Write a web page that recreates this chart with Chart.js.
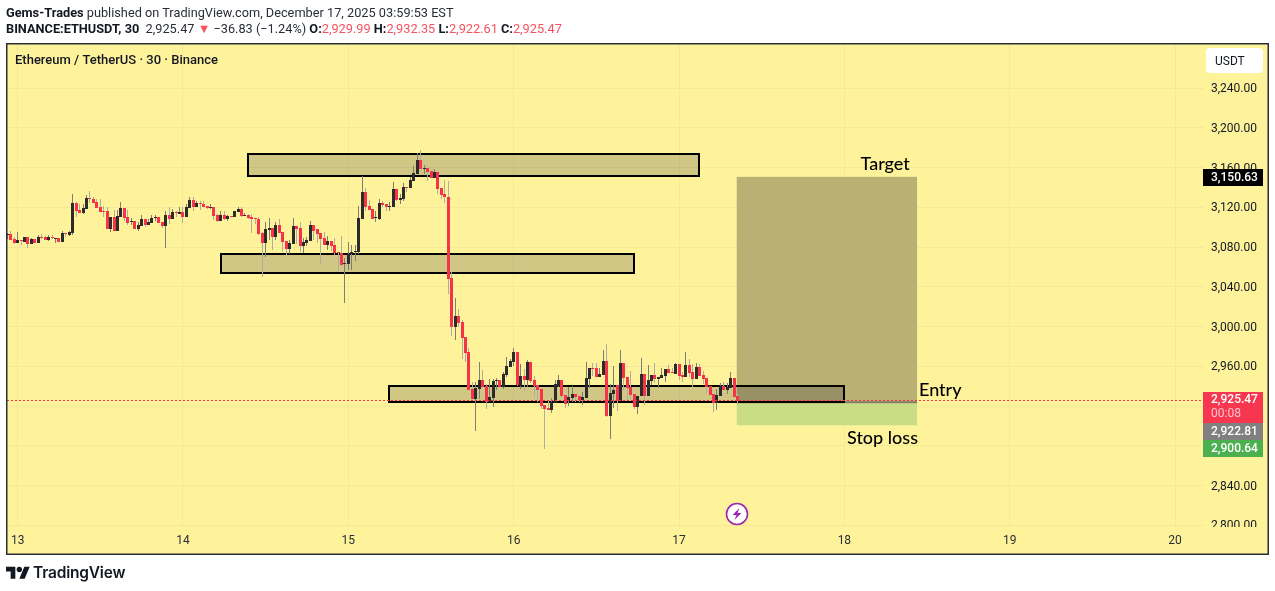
<!DOCTYPE html>
<html><head><meta charset="utf-8">
<style>
html,body{margin:0;padding:0;background:#fff;width:1275px;height:591px;overflow:hidden}
canvas{position:absolute;left:0;top:0}
.h{position:absolute;left:6px;font:12.75px Roboto,sans-serif;color:#2a2e39;white-space:nowrap;line-height:16px}
.h b{font-weight:700;color:#131722}.h i{font-style:normal;color:#f7525f}
#logo{position:absolute;left:6px;top:564px}
#lt{position:absolute;left:33px;top:563px;font:600 15.5px Inter,sans-serif;color:#131722;line-height:20px;letter-spacing:-.2px}
</style></head><body>
<canvas id="c" width="1275" height="591"></canvas>
<div class="h" style="top:5px"><b>Gems-Trades</b> published on TradingView.com, December 17, 2025 03:59:53 EST</div>
<div class="h" style="top:21px"><b>BINANCE:ETHUSDT, 30</b>&nbsp; 2,925.47 <i>▼</i> −36.83 (−1.24%) <b>O:</b><i>2,929.99</i> <b>H:</b><i>2,932.35</i> <b>L:</b><i>2,922.61</i> <b>C:</b><i>2,925.47</i></div>
<svg id="logo" width="24" height="15" viewBox="0 0 36 22"><path fill="#131722" d="M14 22H7V11H0V4h14v18zM28 22h-8l7.5-18h8L28 22z"/><circle fill="#131722" cx="20" cy="8" r="4"/></svg>
<div id="lt">TradingView</div>
<script src="https://cdn.jsdelivr.net/npm/chart.js@4/dist/chart.umd.js"></script>
<script>
const opens=[3092,3093,3088,3084,3087,3085,3090,3083,3088,3084,
3090,3090,3087,3090,3088,3089,3085,3094,3092,3094,
3124,3117,3114,3118,3129,3128,3125,3120,3116,3116,
3098,3110,3096,3110,3119,3110,3105,3106,3098,3101,
3108,3102,3104,3109,3110,3105,3101,3112,3108,3115,
3113,3115,3110,3119,3127,3120,3124,3123,3121,3119,
3120,3112,3106,3112,3108,3111,3110,3115,3118,3111,
3112,3110,3109,3108,3094,3084,3097,3099,3090,3102,
3095,3086,3078,3083,3101,3099,3081,3084,3086,3102,
3098,3094,3089,3082,3086,3082,3075,3074,3063,3063,
3073,3075,3075,3108,3135,3121,3118,3109,3108,3124,
3123,3120,3120,3138,3127,3128,3140,3139,3146,3153,
3168,3159,3160,3157,3149,3156,3139,3133,3130,3049,
3000,3011,3005,2989,2974,2937,2927,2937,2946,2940,
2924,2928,2945,2946,2939,2951,2959,2964,2974,2940,
2950,2946,2964,2946,2941,2937,2921,2918,2916,2923,
2940,2946,2931,2925,2928,2932,2930,2926,2928,2947,
2958,2958,2949,2951,2965,2910,2932,2941,2925,2963,
2949,2939,2932,2919,2930,2952,2930,2945,2951,2947,
2948,2950,2957,2954,2952,2962,2951,2949,2961,2954,
2947,2959,2951,2948,2940,2932,2923,2930,2940,2936,
2938,2948,2930];
const highs=[3094,3096,3090,3095,3087,3090,3090,3089,3088,3092,
3093,3091,3092,3092,3089,3089,3096,3094,3096,3133,
3125,3123,3123,3132,3136,3130,3128,3128,3121,3120,
3110,3117,3117,3125,3119,3117,3109,3106,3105,3112,
3108,3108,3112,3112,3110,3105,3116,3120,3118,3116,
3120,3120,3123,3130,3130,3126,3126,3126,3121,3123,
3120,3113,3116,3116,3112,3111,3116,3120,3120,3114,
3113,3113,3109,3110,3095,3105,3109,3099,3105,3108,
3095,3086,3087,3109,3101,3105,3089,3090,3106,3102,
3098,3094,3095,3091,3086,3089,3075,3091,3069,3085,
3082,3082,3121,3151,3139,3127,3118,3116,3128,3126,
3123,3125,3145,3138,3133,3144,3140,3150,3162,3175,
3178,3163,3160,3157,3159,3156,3139,3147,3146,3055,
3029,3018,3007,2989,2978,2944,2944,2964,2956,2942,
2947,2947,2948,2946,2954,2969,2967,2978,2974,2962,
2957,2966,2964,2950,2941,2937,2921,2926,2928,2946,
2951,2946,2931,2939,2940,2932,2930,2934,2964,2958,
2963,2963,2958,2976,2982,2942,2960,2941,2976,2963,
2949,2955,2932,2930,2968,2952,2961,2951,2963,2949,
2958,2957,2961,2958,2963,2962,2954,2974,2967,2962,
2963,2962,2955,2948,2940,2932,2937,2943,2944,2943,
2954,2948,2932];
const lows=[3088,3087,3083,3084,3082,3085,3079,3083,3084,3084,
3088,3087,3086,3088,3084,3085,3085,3090,3091,3092,
3110,3114,3113,3118,3124,3124,3119,3115,3110,3098,
3095,3096,3096,3110,3106,3102,3102,3098,3096,3101,
3100,3102,3104,3106,3104,3099,3079,3103,3108,3110,
3113,3104,3110,3119,3116,3120,3117,3120,3118,3118,
3107,3105,3106,3107,3106,3110,3110,3115,3110,3111,
3108,3094,3103,3092,3050,3070,3087,3077,3087,3094,
3075,3072,3073,3083,3083,3075,3074,3081,3086,3087,
3084,3063,3082,3077,3076,3072,3055,3062,3024,3057,
3057,3066,3073,3108,3116,3117,3108,3105,3107,3120,
3116,3116,3120,3126,3123,3126,3135,3139,3146,3153,
3159,3153,3146,3149,3149,3133,3128,3124,3033,2990,
2986,3000,2967,2964,2936,2927,2895,2927,2939,2917,
2924,2919,2936,2939,2937,2949,2959,2960,2940,2937,
2935,2939,2943,2929,2924,2917,2877,2916,2913,2923,
2939,2928,2918,2920,2924,2924,2924,2921,2928,2938,
2950,2949,2949,2951,2909,2887,2918,2915,2925,2936,
2926,2926,2917,2912,2930,2921,2930,2941,2943,2938,
2948,2944,2953,2953,2952,2946,2944,2949,2949,2939,
2947,2950,2942,2933,2931,2914,2916,2930,2936,2932,
2938,2929,2922];
const closes=[3093,3087,3084,3087,3086,3090,3083,3088,3084,3090,
3089,3087,3090,3089,3089,3085,3094,3093,3095,3124,
3116,3114,3119,3129,3128,3124,3119,3115,3115,3098,
3110,3096,3111,3119,3109,3104,3106,3098,3102,3108,
3102,3105,3109,3110,3104,3101,3112,3108,3115,3114,
3115,3110,3120,3127,3120,3124,3123,3120,3119,3120,
3111,3106,3112,3108,3111,3110,3116,3118,3111,3112,
3109,3108,3108,3093,3084,3098,3099,3090,3102,3094,
3085,3078,3084,3101,3098,3081,3085,3087,3102,3096,
3093,3088,3082,3086,3081,3074,3074,3062,3064,3073,
3075,3076,3109,3135,3120,3117,3108,3110,3124,3122,
3120,3121,3138,3127,3129,3140,3139,3147,3154,3168,
3159,3160,3156,3149,3156,3138,3132,3130,3048,3000,
3011,3004,2988,2973,2936,2927,2938,2946,2939,2924,
2929,2945,2946,2939,2952,2960,2965,2974,2941,2950,
2946,2964,2945,2940,2936,2920,2917,2916,2924,2942,
2946,2930,2922,2929,2932,2929,2926,2929,2948,2958,
2957,2949,2952,2965,2910,2933,2936,2925,2963,2948,
2938,2931,2919,2930,2952,2930,2946,2951,2947,2949,
2951,2957,2953,2953,2962,2950,2949,2961,2953,2947,
2959,2950,2947,2939,2931,2923,2931,2940,2936,2939,
2948,2929,2925];

const dayTicks=[3,51,99,147,195,243,291,339];
const dayLabels=['13','14','15','16','17','18','19','20'];
const priceTicks=[3240,3200,3160,3120,3080,3040,3000,2960,2920,2880,2840,2800];

const boxFromBar=[70,62,110.8], boxToBar=[200.8,182,243];
const boxTop=[3173.6,3073,2940.2], boxBottom=[3151.5,3054,2924.4];
const posFromBar=211.75, posToBar=264.1;
const targetPrice=3150.63, entryPrice=2922.81, stopPrice=2900.64, lastPrice=2925.47;

const pal={bg:'#fef39b',frame:'#2a2e39',grid:'#f4e899',up:'#2b2b2b',down:'#f5334a',wickUp:'#7d7d7a',wickDown:'#aeaca3'};
const fmt=v=>v.toLocaleString('en-US',{minimumFractionDigits:2,maximumFractionDigits:2});

Chart.defaults.font.family='Roboto, sans-serif';
const BarEl=Chart.BarElement||Chart.registry.getElement('bar');
const rawDraw=BarEl.prototype.draw;
BarEl.prototype.draw=function(ctx){
  const {x,y,base}=this;
  this.x=Math.round(x-.5)+.5;this.y=Math.round(y);this.base=Math.round(base);
  if(this.y===this.base)this.base=this.y+1;
  rawDraw.call(this,ctx);
  this.x=x;this.y=y;this.base=base;
};

let nudged=false;
const under={id:'under',
 beforeDraw(ch){
  const c=ch.ctx;c.save();c.fillStyle=pal.bg;c.fillRect(7,44,1261,510);c.restore();
  if(!nudged){nudged=true;ch.scales.y.getLabelItems(ch.chartArea).forEach(i=>{i.options.translation[1]+=1;});}
 },
 beforeDatasetsDraw(ch){
  const c=ch.ctx,X=ch.scales.x,Y=ch.scales.y;
  c.save();
  const x0=X.getPixelForValue(posFromBar),x1=X.getPixelForValue(posToBar);
  c.fillStyle='#bbb074';c.fillRect(x0,Y.getPixelForValue(targetPrice),x1-x0,Y.getPixelForValue(entryPrice)-Y.getPixelForValue(targetPrice));
  c.fillStyle='#c9dd86';c.fillRect(x0,Y.getPixelForValue(entryPrice),x1-x0,Y.getPixelForValue(stopPrice)-Y.getPixelForValue(entryPrice));
  c.strokeStyle='#7f7f66';c.lineWidth=2;c.beginPath();c.moveTo(x0,Y.getPixelForValue(entryPrice)-1);c.lineTo(x1,Y.getPixelForValue(entryPrice)-1);c.stroke();
  boxFromBar.forEach((b,i)=>{
    const l=Math.round(X.getPixelForValue(b)),r=Math.round(X.getPixelForValue(boxToBar[i])),t=Math.round(Y.getPixelForValue(boxTop[i])),o=Math.round(Y.getPixelForValue(boxBottom[i]));
    c.fillStyle='rgba(10,10,40,0.19)';c.fillRect(l,t,r-l,o-t);
    c.strokeStyle='#000';c.lineWidth=2;c.strokeRect(l,t,r-l,o-t);
  });
  c.restore();
 },
 afterDatasetsDraw(ch){
  const c=ch.ctx,Y=ch.scales.y;
  c.save();
  const ly=Math.round(Y.getPixelForValue(lastPrice))-.5;
  c.strokeStyle='#f23645';c.lineWidth=1;c.setLineDash([2,2]);c.beginPath();c.moveTo(7,ly);c.lineTo(1204,ly);c.stroke();c.setLineDash([]);
  c.fillStyle='#000';c.textBaseline='middle';c.font='500 18px Lato, sans-serif';
  c.textAlign='left';
  c.fillText('Target',860.5,164);c.fillText('Entry',919,390);c.fillText('Stop loss',847,438);
  c.restore();
 },
 afterDraw(ch){
  const c=ch.ctx;
  c.save();
  c.fillStyle=pal.bg;c.fillRect(1204,527,63,26);
  c.textBaseline='middle';c.textAlign='left';
  c.font='500 13px Roboto, sans-serif';c.fillStyle='#131722';c.fillText('Ethereum / TetherUS · 30 · Binance',15,61);
  c.fillStyle='#fff';c.beginPath();c.roundRect(1206,48,57,25,4);c.fill();
  c.fillStyle='#131722';c.font='12px Roboto, sans-serif';c.fillText('USDT',1215,62);
  const tag=(y,h,col)=>{c.fillStyle=col;c.fillRect(1203,y,60,h);};
  tag(169,17,'#000');tag(392,31,'#f7374f');tag(423,17,'#808080');tag(440,17,'#4caf50');
  c.font='500 12px Roboto, sans-serif';c.fillStyle='#fff';
  c.fillText(fmt(targetPrice),1211,177.5);c.fillText(fmt(lastPrice),1211,400);
  c.fillText(fmt(entryPrice),1211,431.5);c.fillText(fmt(stopPrice),1211,448.5);
  c.fillStyle='#ffc4cb';c.font='12px Roboto, sans-serif';c.fillText('00:08',1211,414);
  c.beginPath();c.fillStyle='#fff';c.arc(737,514,10.5,0,7);c.fill();c.strokeStyle='#9c27b0';c.lineWidth=1.6;c.stroke();
  c.fillStyle='#9c27b0';c.beginPath();c.moveTo(739.5,508);c.lineTo(732.5,515);c.lineTo(736.5,515);c.lineTo(734.5,520);c.lineTo(741.5,513);c.lineTo(737.5,513);c.closePath();c.fill();
  c.strokeStyle=pal.frame;c.lineWidth=1.5;c.strokeRect(6.75,43.75,1261.5,510.5);
  c.restore();
 }
};

const idx=opens.map((_,i)=>i);
new Chart(document.getElementById('c'),{
 type:'bar',
 data:{datasets:[
  {label:'Body',order:0,grouped:false,barThickness:3,inflateAmount:0,borderWidth:0,
   data:idx.map(i=>({x:i,y:[opens[i],closes[i]]})),
   backgroundColor:idx.map(i=>closes[i]>=opens[i]?pal.up:pal.down)},
  {label:'Wick',order:1,grouped:false,barThickness:1,inflateAmount:0,borderWidth:0,
   data:idx.map(i=>({x:i,y:[lows[i],highs[i]]})),
   backgroundColor:idx.map(i=>closes[i]>=opens[i]?pal.wickUp:pal.wickDown)}
 ]},
 options:{
  responsive:false,animation:false,devicePixelRatio:1,
  layout:{padding:{left:7,right:7,top:44,bottom:37}},
  plugins:{legend:{display:false},tooltip:{enabled:false},title:{display:false}},
  scales:{
   x:{type:'linear',offset:false,min:-0.09,max:347.4,
      grid:{offset:false,color:pal.grid,drawTicks:false},border:{display:false},
      afterBuildTicks:a=>{a.ticks=dayTicks.map(v=>({value:v}));},
      afterFit:a=>{a.height=27;a.paddingLeft=0;a.paddingRight=0;},
      ticks:{autoSkip:false,maxRotation:0,padding:7,color:'#2a2e39',font:{size:12},
             callback:v=>dayLabels[dayTicks.indexOf(v)]}},
   y:{type:'linear',position:'right',min:2798.3,max:3284.3,
      grid:{color:pal.grid,drawTicks:false},border:{display:false},
      afterBuildTicks:a=>{a.ticks=priceTicks.map(v=>({value:v}));},
      afterFit:a=>{a.width=64;a.paddingTop=0;a.paddingBottom=0;},
      ticks:{autoSkip:false,padding:7,color:'#131722',font:{size:12},callback:v=>fmt(v)}}
  }
 },
 plugins:[under]
});
</script>
</body></html>
